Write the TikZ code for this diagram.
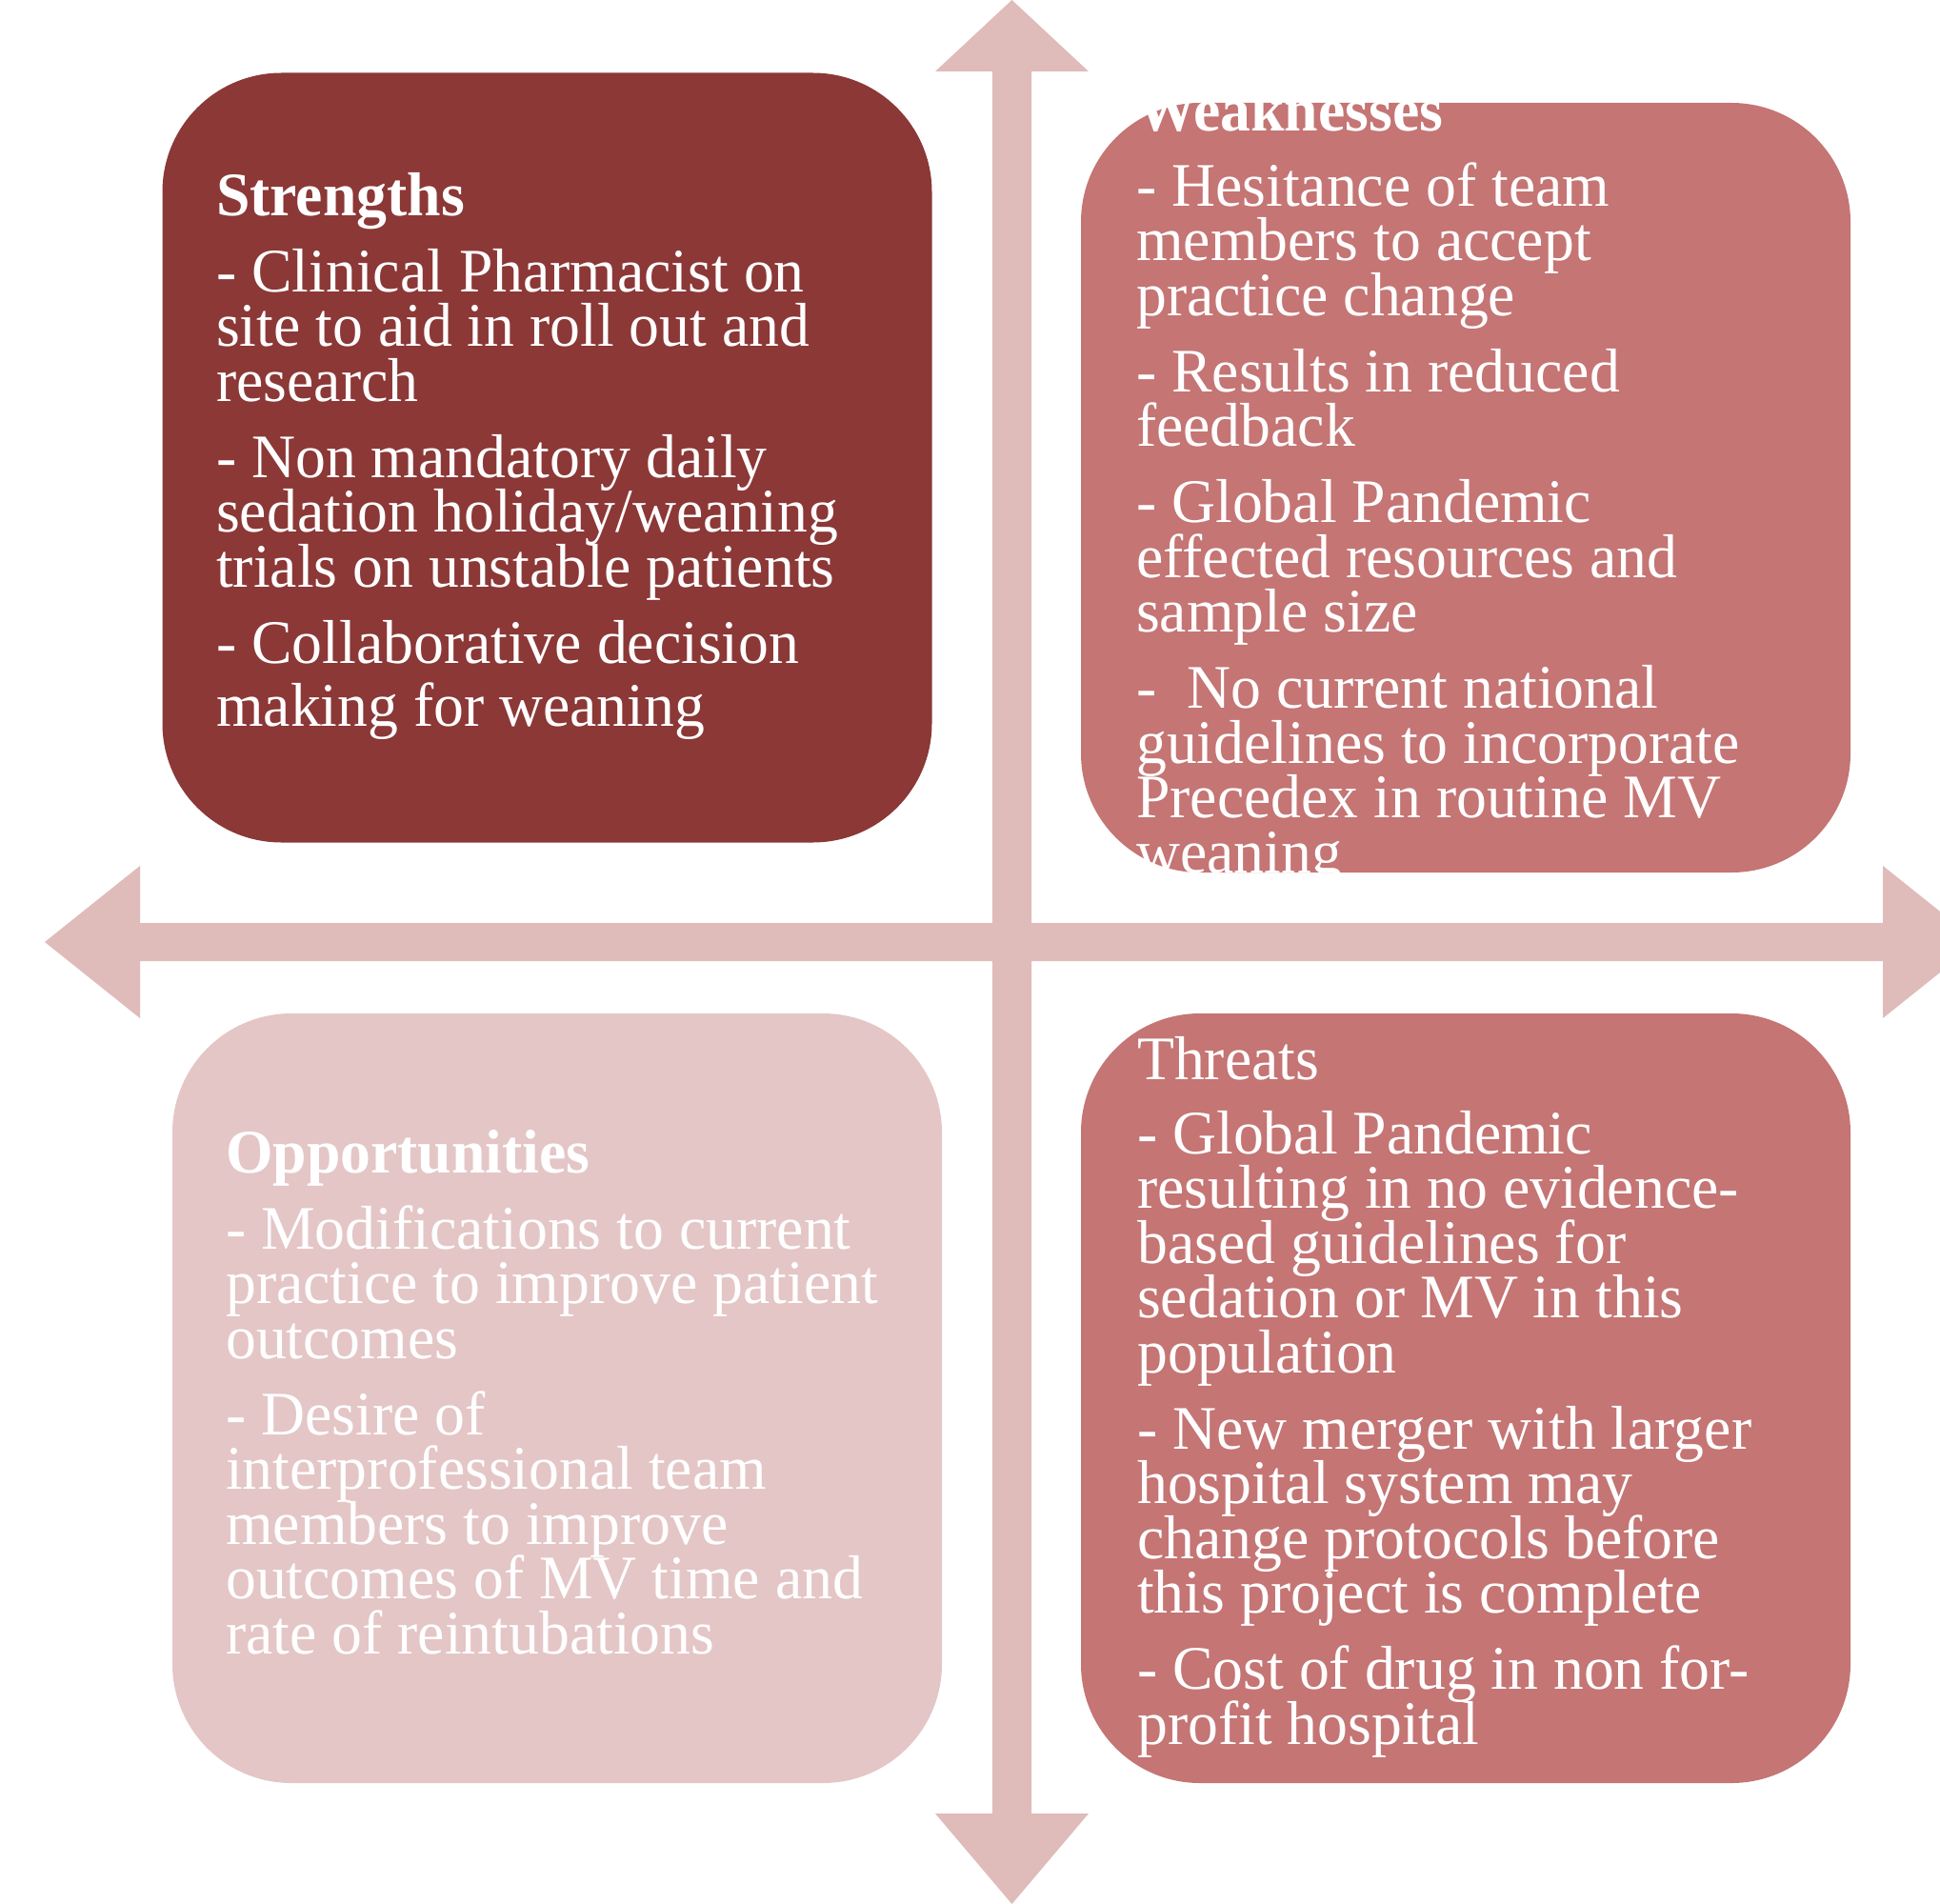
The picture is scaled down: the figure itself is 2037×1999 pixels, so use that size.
\documentclass[tikz,border=0pt]{standalone}
\usepackage{fontspec}
\newfontfamily\swf[FakeStretch=0.98]{Liberation Serif}
\definecolor{strongc}{HTML}{8B3837}
\definecolor{weakc}{HTML}{C47574}
\definecolor{oppc}{HTML}{E4C6C7}
\definecolor{arrowc}{HTML}{DFBBBA}
\tikzset{
  quad/.style={rectangle, rounded corners=125pt, minimum width=808pt, minimum height=808pt, inner sep=0pt, draw=none},
  txt/.style={anchor=base west, inner sep=0pt, yshift=-3pt, text=white, font=\swf\fontsize{65}{58}\selectfont},
  ttl/.style={txt, font=\swf\bfseries\fontsize{65}{58}\selectfont},
}
\begin{document}
\begin{tikzpicture}[x=1pt,y=-1pt]
\useasboundingbox (0,0) rectangle (2037,1999);
\clip (0,0) rectangle (2037,1999);
% arrows
\fill[arrowc] (1062.5,0) -- (1143,75) -- (1083,75) -- (1083,1904) -- (1143,1904) -- (1062.5,1999)
  -- (982,1904) -- (1042,1904) -- (1042,75) -- (982,75) -- cycle;
\fill[arrowc] (47,989) -- (147,909) -- (147,969) -- (1977,969) -- (1977,909) -- (2077,989)
  -- (1977,1069) -- (1977,1009) -- (147,1009) -- (147,1069) -- cycle;
% boxes
\node[quad, fill=strongc] (S) at (574.5,480.5) {};
\node[quad, fill=weakc] (W) at (1539,512) {};
\node[quad, fill=oppc] (O) at (585,1468) {};
\node[quad, fill=weakc] (T) at (1539,1468) {};
% Strengths
\begin{scope}
\clip (S.north west) rectangle (S.south east);
\node[ttl] (s0) at (227,223) {Strengths};
\foreach \n/\y/\t in {1/303/{- Clinical Pharmacist on}, 2/360.5/{site to aid in roll out and}, 3/418/{research},
  4/498/{- Non mandatory daily}, 5/555.5/{sedation holiday/weaning}, 6/613/{trials on unstable patients},
  7/693/{- Collaborative decision}, 8/759/{making for weaning}}
  \node[txt] (s\n) at (227,\y) {\t};
\end{scope}
% Weaknesses
\begin{scope}
\clip (W.north west) rectangle (W.south east);
\node[ttl] (w0) at (1193,135) {Weaknesses};
\foreach \n/\y/\t in {1/213/{- Hesitance of team}, 2/270.5/{members to accept}, 3/328/{practice change},
  4/408/{- Results in reduced}, 5/465.5/{feedback},
  6/545.5/{- Global Pandemic}, 7/603/{effected resources and}, 8/660.5/{sample size},
  9/740.5/{-\ \ No current national}, 10/798/{guidelines to incorporate}, 11/855.5/{Precedex in routine MV}, 12/913/{weaning}}
  \node[txt] (w\n) at (1193,\y) {\t};
\end{scope}
% Opportunities
\begin{scope}
\clip (O.north west) rectangle (O.south east);
\node[ttl] (o0) at (237,1228) {Opportunities};
\foreach \n/\y/\t in {1/1308/{- Modifications to current}, 2/1365.5/{practice to improve patient}, 3/1423/{outcomes},
  4/1503/{- Desire of}, 5/1560.5/{interprofessional team}, 6/1618/{members to improve},
  7/1675.5/{outcomes of MV time and}, 8/1733/{rate of reintubations}}
  \node[txt] (o\n) at (237,\y) {\t};
\end{scope}
% Threats
\begin{scope}
\clip (T.north west) rectangle (T.south east);
\node[txt] (t0) at (1194,1130) {Threats};
\foreach \n/\y/\t in {1/1208/{- Global Pandemic}, 2/1265.5/{resulting in no evidence-}, 3/1323/{based guidelines for},
  4/1380.5/{sedation or MV in this}, 5/1438/{population},
  6/1518/{- New merger with larger}, 7/1575.5/{hospital system may}, 8/1633/{change protocols before}, 9/1690.5/{this project is complete},
  10/1770.5/{- Cost of drug in non for-}, 11/1828/{profit hospital}}
  \node[txt] (t\n) at (1194,\y) {\t};
\end{scope}
\end{tikzpicture}
\end{document}
